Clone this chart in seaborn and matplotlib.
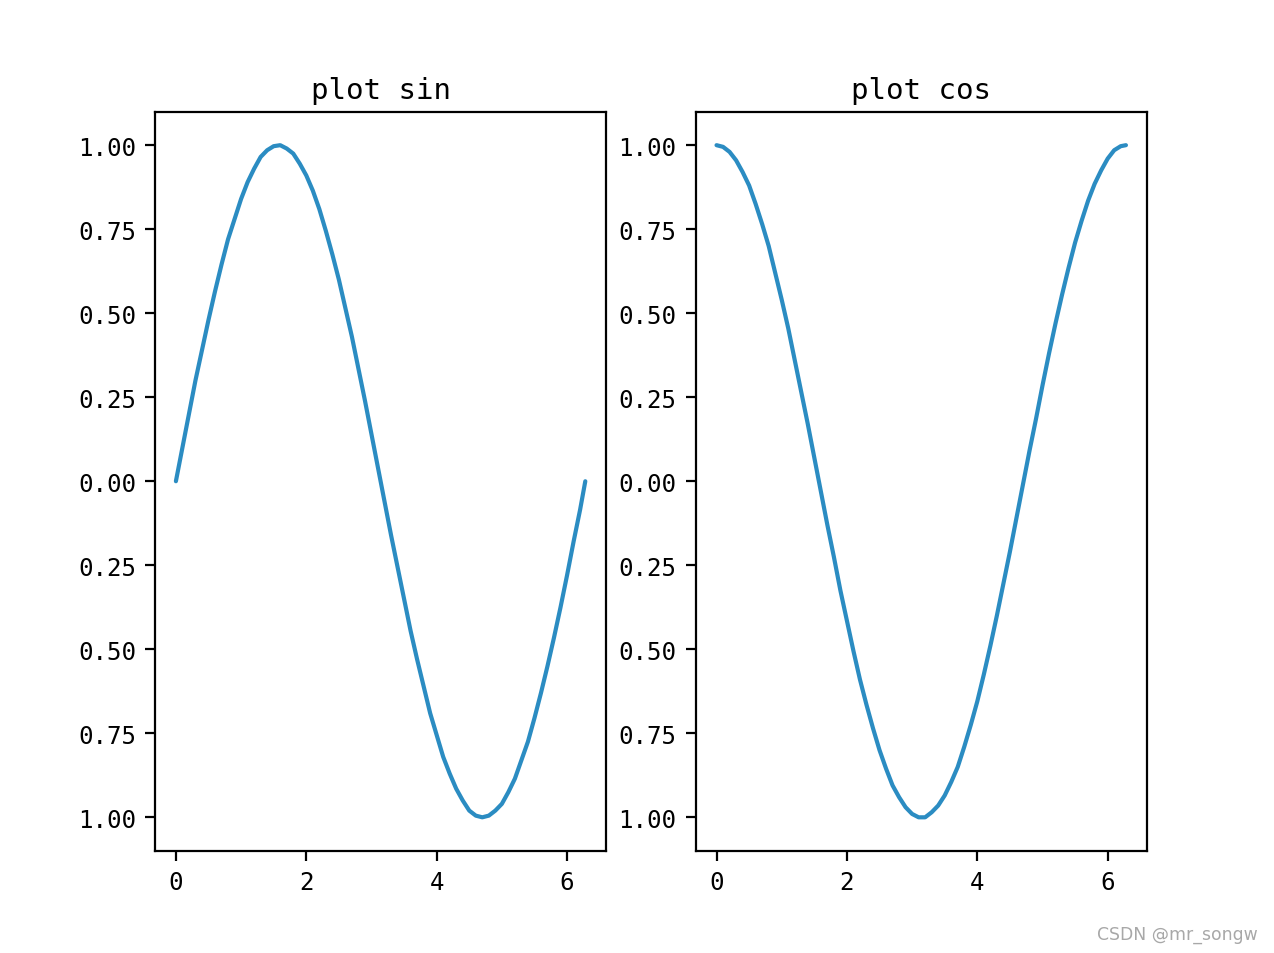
import matplotlib
matplotlib.use('Agg')
import pandas as pd
import matplotlib.pyplot as plt
import seaborn as sns

# values
x_vals = [0.0, 0.1, 0.2, 0.3, 0.4, 0.5, 0.6, 0.7, 0.8, 0.9,
          1.0, 1.1, 1.2, 1.3, 1.4, 1.5, 1.6, 1.7, 1.8, 1.9,
          2.0, 2.1, 2.2, 2.3, 2.4, 2.5, 2.6, 2.7, 2.8, 2.9,
          3.0, 3.1, 3.2, 3.3, 3.4, 3.5, 3.6, 3.7, 3.8, 3.9,
          4.0, 4.1, 4.2, 4.3, 4.4, 4.5, 4.6, 4.7, 4.8, 4.9,
          5.0, 5.1, 5.2, 5.3, 5.4, 5.5, 5.6, 5.7, 5.8, 5.9,
          6.0, 6.1, 6.2, 6.28]
sin_vals = [0.00, 0.10, 0.20, 0.30, 0.39, 0.48, 0.565, 0.645, 0.72, 0.78,
            0.84, 0.89, 0.93, 0.965, 0.985, 0.997, 1.00, 0.99, 0.975, 0.945,
            0.91, 0.865, 0.81, 0.745, 0.675, 0.60, 0.515, 0.43, 0.335, 0.24,
            0.14, 0.04, -0.06, -0.16, -0.255, -0.35, -0.445, -0.53, -0.61, -0.69,
            -0.755, -0.82, -0.87, -0.915, -0.95, -0.98, -0.995, -1.00, -0.995, -0.98,
            -0.96, -0.925, -0.885, -0.83, -0.775, -0.705, -0.63, -0.55, -0.465, -0.375,
            -0.28, -0.18, -0.085, 0.00]
cos_vals = [1.00, 0.995, 0.98, 0.955, 0.92, 0.88, 0.825, 0.765, 0.70, 0.62,
            0.54, 0.455, 0.36, 0.265, 0.17, 0.07, -0.03, -0.13, -0.225, -0.325,
            -0.415, -0.505, -0.59, -0.665, -0.735, -0.80, -0.855, -0.905, -0.94, -0.97,
            -0.99, -1.00, -1.00, -0.985, -0.965, -0.935, -0.895, -0.85, -0.79, -0.725,
            -0.655, -0.575, -0.49, -0.40, -0.305, -0.21, -0.11, -0.01, 0.09, 0.185,
            0.285, 0.38, 0.47, 0.555, 0.635, 0.71, 0.775, 0.835, 0.885, 0.925,
            0.96, 0.985, 0.997, 1.00]

titles = ['plot sin', 'plot cos']
x_ticks = [0, 2, 4, 6]
y_ticks = [1.0, 0.75, 0.5, 0.25, 0.0, -0.25, -0.5, -0.75, -1.0]
# the original font had no minus glyph, so negative labels show without it
y_tick_labels = ['1.00', '0.75', '0.50', '0.25', '0.00', '0.25', '0.50', '0.75', '1.00']

df = pd.DataFrame({'x': x_vals, 'sin': sin_vals, 'cos': cos_vals})

sns.set_style('ticks')
plt.rcParams['font.family'] = ['DejaVu Sans Mono', 'DejaVu Sans']
plt.rcParams['text.color'] = 'black'

fig, axes = plt.subplots(1, 2, figsize=(6.37, 4.77), dpi=200)
line_color = '#2b8cc2'

for ax, col, title in zip(axes, ['sin', 'cos'], titles):
    sns.lineplot(data=df, x='x', y=col, ax=ax, color=line_color, linewidth=1.5)
    ax.set_title(title, fontsize=10.5, color='black', pad=5)
    ax.set_xlabel('')
    ax.set_ylabel('')
    ax.set_xticks(x_ticks)
    ax.set_yticks(y_ticks)
    ax.set_yticklabels(y_tick_labels)
    ax.set_ylim(-1.1, 1.1)
    ax.set_xlim(-0.314, 6.597)
    for s in ax.spines.values():
        s.set_visible(True)
        s.set_linewidth(0.8)
        s.set_color('black')
    ax.tick_params(colors='black', labelsize=8.7, direction='out', length=3.5, width=0.8)

fig.subplots_adjust(left=0.122, right=0.9, top=0.882, bottom=0.107, wspace=0.2)
fig.text(0.987, 0.01, 'CSDN @mr_songw', ha='right', va='bottom', fontsize=6.2,
         color='#a8a8a8', family='DejaVu Sans')

fig.savefig('out.png', dpi=200)
